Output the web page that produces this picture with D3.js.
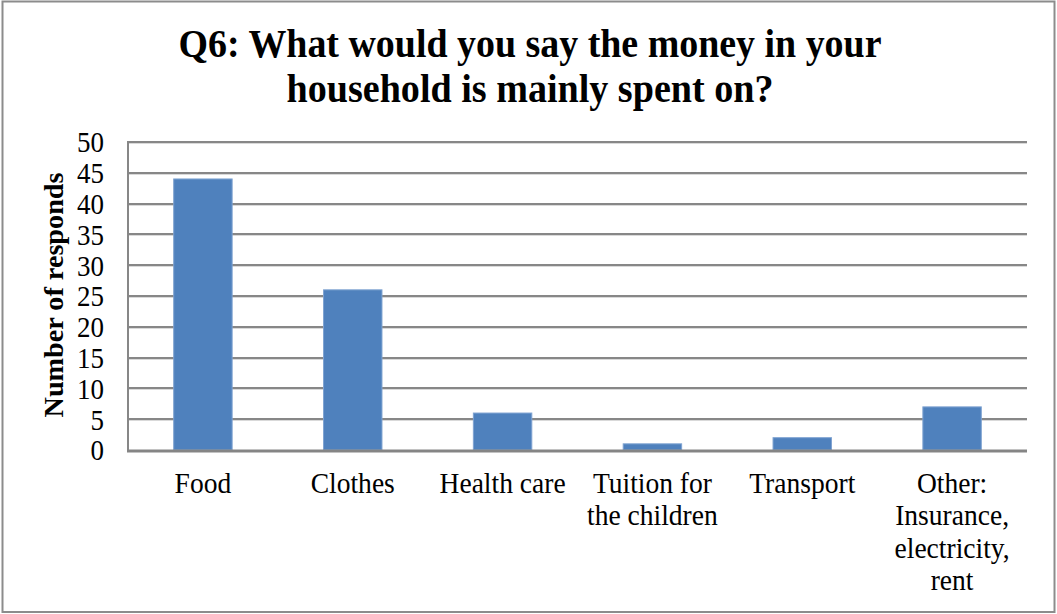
<!DOCTYPE html>
<html>
<head>
<meta charset="utf-8">
<script src="https://cdn.jsdelivr.net/npm/d3@7"></script>
<style>
  html, body { margin: 0; padding: 0; background: #fff; }
  svg { display: block; }
  text { font-family: "Liberation Serif", "Times New Roman", serif; fill: #000; }
</style>
</head>
<body>
<svg id="chart" width="1057" height="614"></svg>
<script>
// Spending categories and number of responses for each
const categories = [
  ["Food"],
  ["Clothes"],
  ["Health care"],
  ["Tuition for", "the children"],
  ["Transport"],
  ["Other:", "Insurance,", "electricity,", "rent"]
];
const responses = [44, 26, 6, 1, 2, 7];
const yTicks = [0, 5, 10, 15, 20, 25, 30, 35, 40, 45, 50];
const titleLines = ["Q6: What would you say the money in your", "household is mainly spent on?"];
const yAxisTitle = "Number of responds";

const svg = d3.select("#chart");
const W = 1057, H = 614;
const plot = { left: 128, right: 1027, top: 142, bottom: 450 };
const squeeze = 0.93; // narrow serif look for the axis text

// outer frame
svg.append("rect")
  .attr("x", 2.5).attr("y", 1.5)
  .attr("width", W - 5).attr("height", H - 3.5)
  .attr("fill", "#fff").attr("stroke", "#8c8c8c").attr("stroke-width", 2);

const x = d3.scaleBand()
  .domain(d3.range(categories.length))
  .range([plot.left, plot.right])
  .paddingInner(0.61).paddingOuter(0.305);

const y = d3.scaleLinear().domain([0, 50]).range([plot.bottom, plot.top]);

// horizontal gridlines
const grid = svg.append("g");
grid.selectAll("line.shadow")
  .data(yTicks.filter(d => d > 0))
  .join("line")
  .attr("x1", plot.left).attr("x2", plot.right)
  .attr("y1", d => Math.round(y(d)) + 1.5).attr("y2", d => Math.round(y(d)) + 1.5)
  .attr("stroke", "#d9d9d9").attr("stroke-width", 1);
grid.selectAll("line.main")
  .data(yTicks.filter(d => d > 0))
  .join("line")
  .attr("x1", plot.left).attr("x2", plot.right)
  .attr("y1", d => Math.round(y(d))).attr("y2", d => Math.round(y(d)))
  .attr("stroke", "#878787").attr("stroke-width", 2);

// bars
svg.append("g").selectAll("rect")
  .data(responses)
  .join("rect")
  .attr("x", (d, i) => x(i))
  .attr("y", d => y(d))
  .attr("width", x.bandwidth())
  .attr("height", d => y(0) - y(d))
  .attr("fill", "#4f81bd")
  .attr("stroke", "#7fa3d1").attr("stroke-width", 1);

// y axis line
svg.append("line")
  .attr("x1", plot.left).attr("x2", plot.left)
  .attr("y1", plot.top - 1).attr("y2", plot.bottom + 1)
  .attr("stroke", "#878787").attr("stroke-width", 2);

// x axis baseline
svg.append("line")
  .attr("x1", plot.left - 1).attr("x2", plot.right)
  .attr("y1", y(0) + 1).attr("y2", y(0) + 1)
  .attr("stroke", "#858585").attr("stroke-width", 3);

// y tick labels, right-aligned at x = 104
const yAxis = d3.axisLeft(y).tickValues(yTicks).tickSize(0).tickPadding(0);
const gy = svg.append("g").attr("transform", `translate(104,0)`).call(yAxis);
gy.select(".domain").remove();
gy.selectAll(".tick text")
  .attr("font-family", "Liberation Serif")
  .attr("font-size", 29)
  .attr("fill", "#000")
  .attr("dy", "0.34em")
  .attr("transform", `scale(${squeeze},1)`);

// y axis title
svg.append("text")
  .attr("transform", `translate(63,295) rotate(-90)`)
  .attr("text-anchor", "middle")
  .attr("font-size", 28)
  .attr("font-weight", "bold")
  .attr("textLength", 245)
  .attr("lengthAdjust", "spacingAndGlyphs")
  .text(yAxisTitle);

// category labels
const cat = svg.append("g");
categories.forEach((lines, i) => {
  const t = cat.append("text")
    .attr("text-anchor", "middle")
    .attr("font-size", 29)
    .attr("transform", `translate(${x(i) + x.bandwidth() / 2},493) scale(${squeeze + 0.02},1)`);
  lines.forEach((ln, k) => {
    t.append("tspan").attr("x", 0).attr("y", k * 32.5).text(ln);
  });
});

// title
const titleWidths = [703, 487];
titleLines.forEach((ln, k) => {
  svg.append("text")
    .attr("x", 530).attr("y", 57 + k * 45)
    .attr("text-anchor", "middle")
    .attr("font-size", 39)
    .attr("font-weight", "bold")
    .attr("textLength", titleWidths[k])
    .attr("lengthAdjust", "spacingAndGlyphs")
    .text(ln);
});
</script>
</body>
</html>
